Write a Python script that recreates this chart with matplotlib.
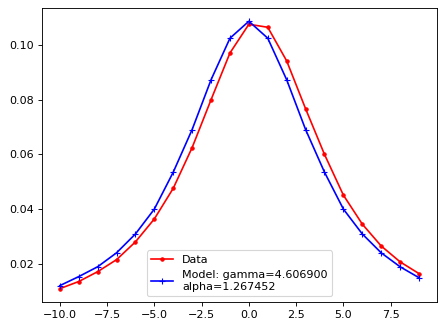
import numpy as np
import matplotlib.pyplot as plt

x = np.arange(-10, 10)

data = [0.0109, 0.0135, 0.0171, 0.0215, 0.0280, 0.0364, 0.0476, 0.0625, 0.0800, 0.0971,
        0.1076, 0.1065, 0.0942, 0.0767, 0.0600, 0.0451, 0.0345, 0.0265, 0.0207, 0.0164]

model = [0.0120, 0.0153, 0.0189, 0.0240, 0.0309, 0.0400, 0.0535, 0.0691, 0.0873, 0.1025,
         0.1087, 0.1025, 0.0873, 0.0691, 0.0535, 0.0400, 0.0309, 0.0240, 0.0189, 0.0149]

gamma = 4.606900
alpha = 1.267452

fig = plt.figure(figsize=(445 / 80, 329 / 80), dpi=80)
ax = fig.add_subplot(111)
fig.subplots_adjust(left=0.094, right=0.982, top=0.976, bottom=0.082)

ax.plot(x, data, 'r.-', label='Data')
ax.plot(x, model, 'b+-', label='Model: gamma=%f\nalpha=%f' % (gamma, alpha))
ax.legend(loc='lower center')

fig.savefig('out.png', dpi=80)
